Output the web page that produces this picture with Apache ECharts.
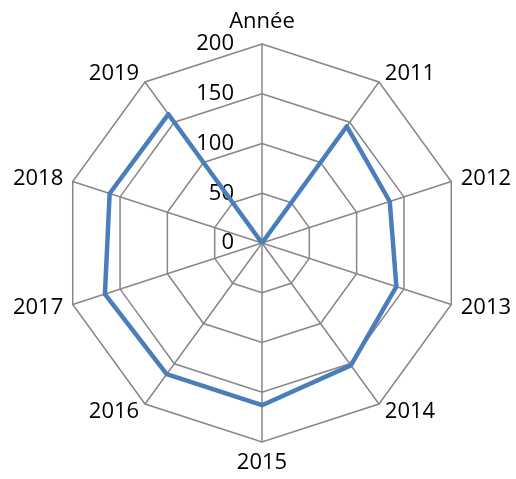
<!DOCTYPE html>
<html>
<head>
<meta charset="utf-8">
<script src="https://cdn.jsdelivr.net/npm/echarts@6/dist/echarts.min.js"></script>
<style>
  html, body { margin: 0; padding: 0; background: #fff; }
  #radar { width: 516px; height: 479px; }
</style>
</head>
<body>
<div id="radar"></div>
<script>
// axes of the radar (first one is the header column, value 0)
var categories = ["Année", "2011", "2012", "2013", "2014", "2015", "2016", "2017", "2018", "2019"];
var values = [0, 145, 135, 142, 152, 163, 163, 166, 161, 160];
var axisMax = 200;

// echarts lays radar axes out counter-clockwise, the reference goes clockwise
var order = [0];
for (var k = categories.length - 1; k > 0; k--) order.push(k);

var mychart = echarts.init(document.getElementById("radar"));
mychart.setOption({
  animation: false,
  textStyle: { fontFamily: "Open Sans" },
  radar: {
    center: [262, 243],
    radius: 199,
    startAngle: 90,
    splitNumber: 4,
    shape: "polygon",
    indicator: order.map(function (i) {
      var ind = { name: categories[i], min: 0, max: axisMax };
      // only the first axis carries the scale labels
      if (i === 0) ind.axisLabel = { show: true };
      return ind;
    }),
    axisName: {
      color: "#000",
      fontSize: 22,
      fontFamily: "Open Sans"
    },
    nameGap: 10,
    axisLabel: {
      show: false,
      color: "#000",
      fontSize: 22,
      fontFamily: "Open Sans",
      margin: 28
    },
    axisLine: { lineStyle: { color: "#878787", width: 1.5 } },
    splitLine: { lineStyle: { color: "#878787", width: 1.5 } },
    splitArea: { show: false }
  },
  series: [
    {
      type: "radar",
      symbol: "none",
      lineStyle: { color: "#4a7ebb", width: 4.5 },
      data: [{ value: order.map(function (i) { return values[i]; }), name: "Valeur" }]
    }
  ]
});
</script>
</body>
</html>
